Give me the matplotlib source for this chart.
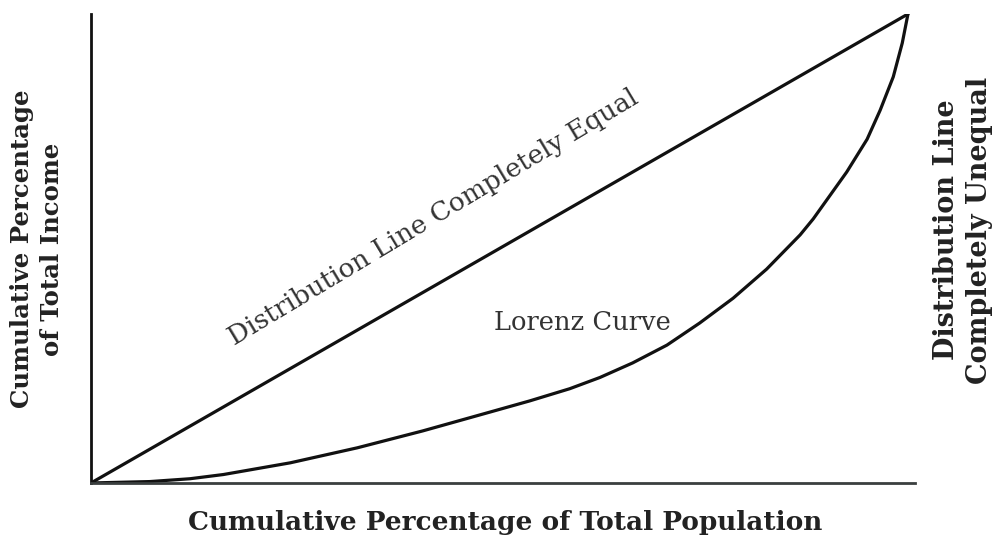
import matplotlib
matplotlib.use("Agg")
import matplotlib.pyplot as plt

# cumulative % of population vs cumulative % of income
equal_x = [0, 100]
equal_y = [0, 100]

lorenz_x = [0, 7.2, 12.1, 16.2, 24.4, 32.6, 40.6, 48.8, 53.7, 58.6, 62.3, 66.3, 70.5,
            74.5, 78.6, 82.7, 86.8, 88.4, 92.5, 95.0, 96.6, 98.2, 99.3, 100]
lorenz_y = [0, 0.3, 0.9, 1.8, 4.3, 7.5, 11.1, 15.1, 17.5, 20.1, 22.5, 25.6, 29.4,
            34.1, 39.4, 45.6, 52.9, 56.3, 66.3, 73.3, 79.5, 86.6, 93.8, 100]

x_label = "Cumulative Percentage of Total Population"
y_label = "Cumulative Percentage\nof Total Income"
right_label = "Distribution Line\nCompletely Unequal"
equal_label = "Distribution Line Completely Equal"
curve_label = "Lorenz Curve"

plt.rcParams["font.family"] = ["DejaVu Serif"]

fig = plt.figure(figsize=(10, 5.4), dpi=100)
ax = fig.add_axes([0.091, 0.1056, 0.824, 0.8685])
ax.set_xlim(0, 100.86)
ax.set_ylim(0, 100)

ax.plot(equal_x, equal_y, color="#111111", linewidth=2.3, solid_capstyle="round")
ax.plot(lorenz_x, lorenz_y, color="#111111", linewidth=2.3,
        solid_joinstyle="round", solid_capstyle="round")

for side in ["top", "right"]:
    ax.spines[side].set_visible(False)
ax.spines["left"].set_linewidth(2.0)
ax.spines["left"].set_color("#111111")
ax.spines["bottom"].set_linewidth(2.0)
ax.spines["bottom"].set_color("#3a3f3f")
ax.set_xticks([])
ax.set_yticks([])

ax.text(41.9, 56.7, equal_label, rotation=31, rotation_mode="anchor",
        ha="center", va="center", fontsize=19, color="#333333")
ax.text(60.1, 34.3, curve_label, ha="center", va="center", fontsize=18.5, color="#333333")

fig.text(0.505, 0.033, x_label, ha="center", va="center", fontsize=19,
         fontweight="bold", color="#222222")
fig.text(0.037, 0.539, y_label, rotation=90, ha="center", va="center", fontsize=17.6,
         fontweight="bold", color="#222222", linespacing=1.3)
fig.text(0.963, 0.574, right_label, rotation=90, ha="center", va="center", fontsize=19.5,
         fontweight="bold", color="#222222", linespacing=1.3)

fig.savefig("out.png", dpi=100)
